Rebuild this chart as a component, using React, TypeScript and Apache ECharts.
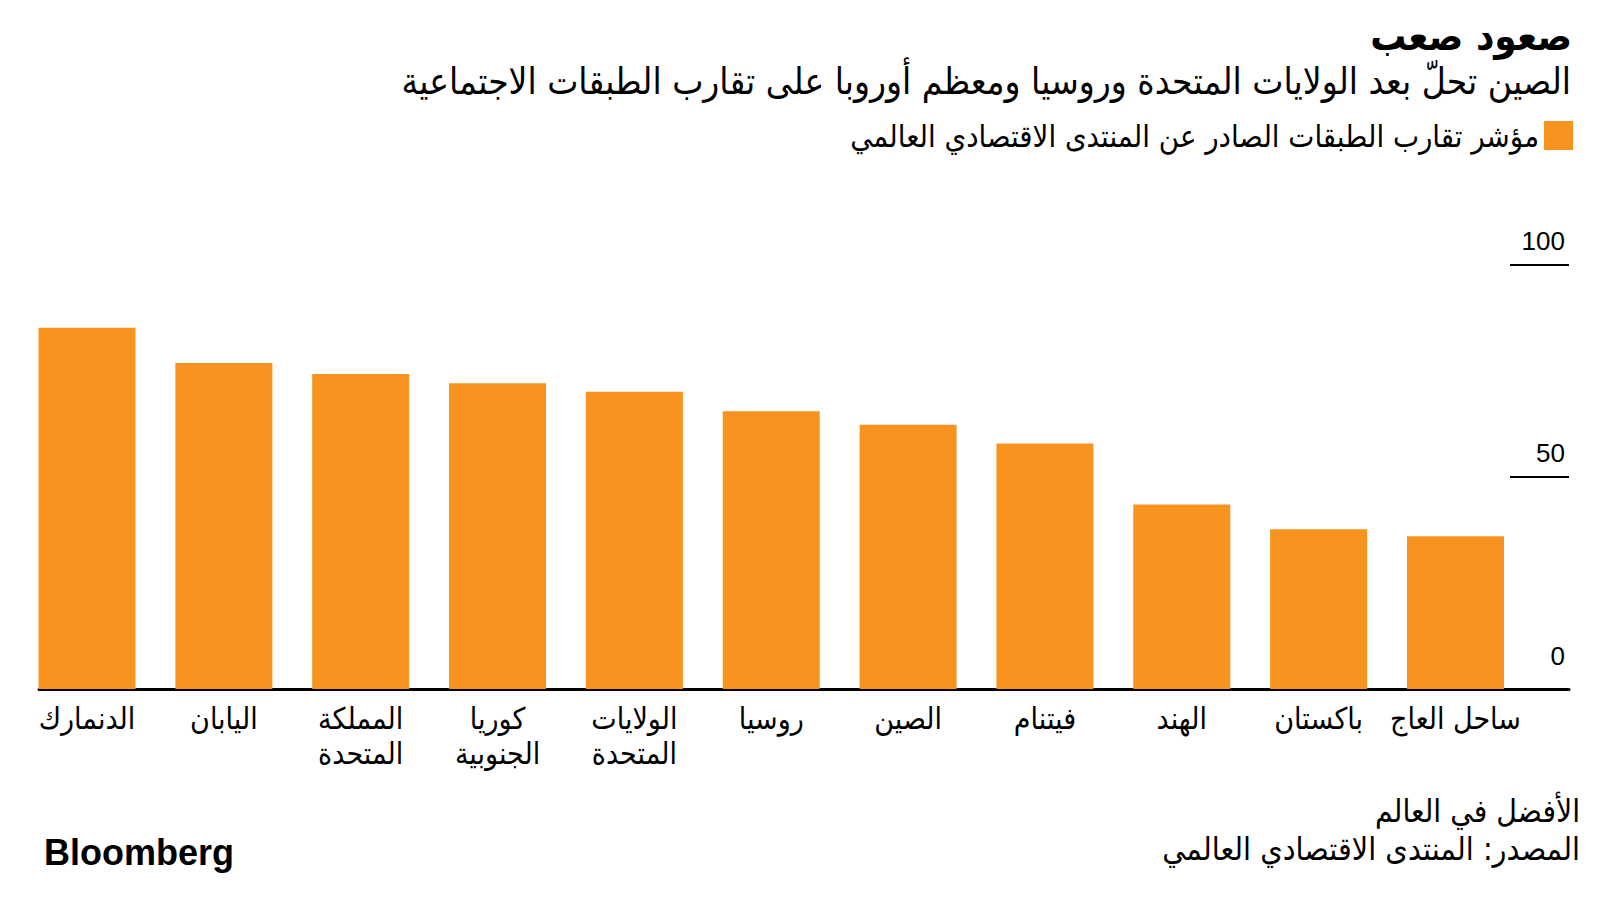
import React, { useEffect, useRef } from "react";
import * as echarts from "echarts";

const categories = [
  "الدنمارك",
  "اليابان",
  "المملكة\nالمتحدة",
  "كوريا\nالجنوبية",
  "الولايات\nالمتحدة",
  "روسيا",
  "الصين",
  "فيتنام",
  "الهند",
  "باكستان",
  "ساحل العاج",
];
const values = [85.2, 76.9, 74.3, 72.1, 70.1, 65.5, 62.3, 57.9, 43.5, 37.7, 36.0];
const seriesName = "مؤشر تقارب الطبقات الصادر عن المنتدى الاقتصادي العالمي";
const titleText = "صعود صعب";
const subtitleText = "الصين تحلّ بعد الولايات المتحدة وروسيا ومعظم أوروبا على تقارب الطبقات الاجتماعية";
const noteText = "الأفضل في العالم";
const sourceText = "المصدر: المنتدى الاقتصادي العالمي";
const yTicks = { min: 0, max: 100, interval: 50 };

const AR = "'DejaVu Sans Condensed', 'DejaVu Sans', sans-serif";
const LAT = "'Liberation Sans', Arial, sans-serif";
const ORANGE = "#F7931E";

export default function App() {
  const ref = useRef<HTMLDivElement>(null);
  useEffect(() => {
    if (!ref.current) return;
    const chart = echarts.init(ref.current, null, { renderer: "svg" });
    chart.setOption({
      animation: false,
      backgroundColor: "#ffffff",
      title: [
        { text: titleText, right: 28, top: 16, padding: 0, textStyle: { fontFamily: AR, fontSize: 40, fontWeight: "bold", color: "#000" } },
        { text: subtitleText, right: 29, top: 63, padding: 0, textStyle: { fontFamily: AR, fontSize: 36.8, fontWeight: "normal", color: "#000" } },
        { text: noteText, right: 20, top: 795, padding: 0, textStyle: { fontFamily: AR, fontSize: 31.5, fontWeight: "normal", color: "#000" } },
        { text: sourceText, right: 20, top: 833, padding: 0, textStyle: { fontFamily: AR, fontSize: 32, fontWeight: "normal", color: "#000" } },
        { text: "Bloomberg", left: 44, top: 834, padding: 0, textStyle: { fontFamily: LAT, fontSize: 36, fontWeight: "bold", color: "#000" } },
      ],
      legend: {
        data: [seriesName],
        right: 27,
        top: 120,
        padding: 0,
        align: "right",
        icon: "rect",
        itemWidth: 29,
        itemHeight: 29,
        textStyle: { fontFamily: AR, fontSize: 30.8, color: "#000" },
        selectedMode: false,
      },
      grid: [
        { left: 18.6, right: 76.1, top: 265, bottom: 211 },
        { left: 39, right: 31, top: 265, bottom: 211 },
        { left: 1510, right: 31, top: 265, bottom: 211 },
      ],
      xAxis: [
        {
          type: "category",
          gridIndex: 0,
          data: categories,
          axisLine: { show: false },
          axisTick: { show: false },
          axisLabel: { interval: 0, fontFamily: AR, fontSize: 30, lineHeight: 35, margin: 12, color: "#000" },
        },
        {
          type: "value",
          gridIndex: 1,
          min: 0,
          max: 1,
          axisLine: { show: true, onZero: false, lineStyle: { color: "#000", width: 3 } },
          axisTick: { show: false },
          axisLabel: { show: false },
          splitLine: { show: false },
        },
        { type: "value", gridIndex: 2, min: 0, max: 1, show: false },
      ],
      yAxis: [
        { type: "value", gridIndex: 0, min: yTicks.min, max: yTicks.max, interval: yTicks.interval, show: false },
        { type: "value", gridIndex: 1, min: yTicks.min, max: yTicks.max, interval: yTicks.interval, show: false },
        {
          type: "value",
          gridIndex: 2,
          position: "right",
          min: yTicks.min,
          max: yTicks.max,
          interval: yTicks.interval,
          axisLine: { show: false },
          axisTick: { show: false },
          splitLine: { show: true, lineStyle: { color: "#000", width: 2 } },
          axisLabel: {
            inside: true,
            margin: 4,
            verticalAlign: "bottom",
            color: "#000",
            fontFamily: LAT,
            fontSize: 26,
            formatter: (v: number) => (v === 0 ? "{z|0}" : "{n|" + v + "}"),
            rich: {
              n: { fontFamily: LAT, fontSize: 26, color: "#000", padding: [0, 0, 11, 0] },
              z: { fontFamily: LAT, fontSize: 26, color: "#000", padding: [0, 0, 20, 0] },
            },
          },
        },
      ],
      series: [
        {
          name: seriesName,
          type: "bar",
          xAxisIndex: 0,
          yAxisIndex: 0,
          data: values,
          barWidth: 97,
          itemStyle: { color: ORANGE },
        },
      ],
    });
    return () => chart.dispose();
  }, []);
  return <div ref={ref} style={{ position: "fixed", left: 0, top: 0, width: 1600, height: 900 }} />;
}
